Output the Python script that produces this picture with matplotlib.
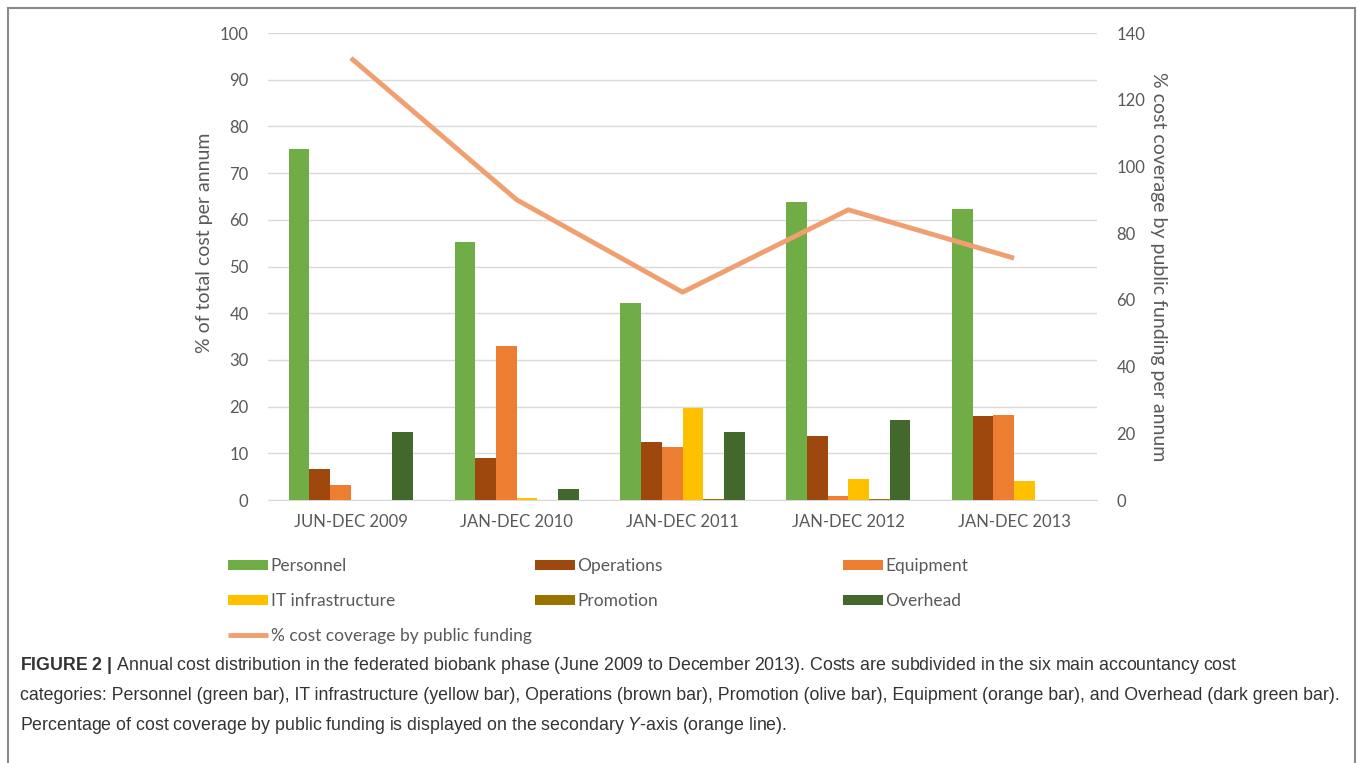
import numpy as np
import matplotlib
matplotlib.use("Agg")
import matplotlib.pyplot as plt
from matplotlib.patches import Rectangle

plt.rcParams['font.family'] = ['Lato', 'DejaVu Sans']
plt.rcParams['mathtext.fontset'] = 'custom'
plt.rcParams['mathtext.rm'] = 'Liberation Sans'
plt.rcParams['mathtext.it'] = 'Liberation Sans:italic'
plt.rcParams['mathtext.bf'] = 'Liberation Sans:bold'

# data
periods = ["JUN-DEC 2009", "JAN-DEC 2010", "JAN-DEC 2011", "JAN-DEC 2012", "JAN-DEC 2013"]
personnel = [75.1, 55.2, 42.2, 63.8, 62.3]
operations = [6.6, 9.0, 12.4, 13.7, 17.9]
equipment = [3.3, 33.0, 11.3, 0.9, 18.2]
it_infra = [0.0, 0.4, 19.8, 4.4, 4.1]
promotion = [0.0, 0.0, 0.3, 0.3, 0.0]
overhead = [14.6, 2.4, 14.5, 17.1, 0.0]
coverage = [132.5, 90.0, 62.3, 87.0, 72.5]

series = [
    ("Personnel", personnel, "#70AD47"),
    ("Operations", operations, "#9E480E"),
    ("Equipment", equipment, "#ED7D31"),
    ("IT infrastructure", it_infra, "#FFC000"),
    ("Promotion", promotion, "#997300"),
    ("Overhead", overhead, "#43682B"),
]
line_color = "#F0A070"
txt_gray = "#595959"

W, H = 1358, 763
fig = plt.figure(figsize=(W / 100, H / 100), dpi=100)
ax = fig.add_axes([268 / W, 1 - 500 / H, (1097 - 268) / W, (500 - 33) / H])

x = np.arange(len(periods))
bw = 0.125
handles = {}
for i, (name, vals, col) in enumerate(series):
    b = ax.bar(x + (i - 2.5) * bw, vals, width=bw, color=col, zorder=3)
    handles[name] = b

ax.set_xlim(-0.5, len(periods) - 0.5)
ax.set_ylim(0, 100)
ax.set_yticks(np.arange(0, 101, 10))
ax.set_xticks(x)
ax.set_xticklabels(periods, fontsize=11.5)
ax.grid(axis='y', color='#d9d9d9', lw=1, zorder=0)
for s in ['top', 'left', 'right']:
    ax.spines[s].set_visible(False)
ax.spines['bottom'].set_color('#d9d9d9')
ax.tick_params(axis='both', length=0, labelsize=12, colors=txt_gray)
ax.tick_params(axis='y', pad=14)
ax.tick_params(axis='x', pad=10)
ax.set_ylabel("% of total cost per annum", fontsize=14, color=txt_gray)
ax.yaxis.set_label_coords(-0.066, 0.55)

ax2 = ax.twinx()
ln, = ax2.plot(x, coverage, color=line_color, lw=3.5, solid_capstyle='butt', zorder=4)
ax2.set_ylim(0, 140)
ax2.set_yticks(np.arange(0, 141, 20))
for s in ['top', 'left', 'right', 'bottom']:
    ax2.spines[s].set_visible(False)
ax2.tick_params(axis='y', length=0, labelsize=12, colors=txt_gray, pad=14)
ax2.set_ylabel("% cost coverage by public funding per annum", fontsize=14,
               color=txt_gray, rotation=270)
ax2.yaxis.set_label_coords(1.085, 0.5)

# legend, three columns placed separately
cols = [
    ([handles["Personnel"], handles["IT infrastructure"], ln],
     ["Personnel", "IT infrastructure", "% cost coverage by public funding"], 228),
    ([handles["Operations"], handles["Promotion"]], ["Operations", "Promotion"], 535),
    ([handles["Equipment"], handles["Overhead"]], ["Equipment", "Overhead"], 843),
]
for hs, labs, xpx in cols:
    fig.legend(hs, labs, loc='upper left', bbox_to_anchor=(xpx / W, 1 - 558 / H),
               frameon=False, fontsize=12.5, labelcolor=txt_gray, handlelength=2.3,
               handleheight=0.5, handletextpad=0.15, labelspacing=1.08,
               borderpad=0, borderaxespad=0)

# caption
cap_kw = dict(fontsize=12.8, color='#333333', family='Liberation Sans', ha='left', va='center')
fig.text(20 / W, 1 - 666 / H,
         r"$\mathbf{FIGURE\ 2\ |}$ Annual cost distribution in the federated biobank phase (June 2009 to December 2013). "
         "Costs are subdivided in the six main accountancy cost", **cap_kw)
fig.text(20 / W, 1 - 696 / H,
         "categories: Personnel (green bar), IT infrastructure (yellow bar), Operations (brown bar), "
         "Promotion (olive bar), Equipment (orange bar), and Overhead (dark green bar).", **cap_kw)
fig.text(20 / W, 1 - 725 / H,
         r"Percentage of cost coverage by public funding is displayed on the secondary $Y$-axis (orange line).",
         **cap_kw)

# outer frame
fig.patches.append(Rectangle((8 / W, -0.05), (1355 - 8) / W, 1.05 - 8 / H,
                             transform=fig.transFigure, fill=False,
                             edgecolor='#8a8a8a', lw=1.5))

fig.savefig("out.png", dpi=100)
